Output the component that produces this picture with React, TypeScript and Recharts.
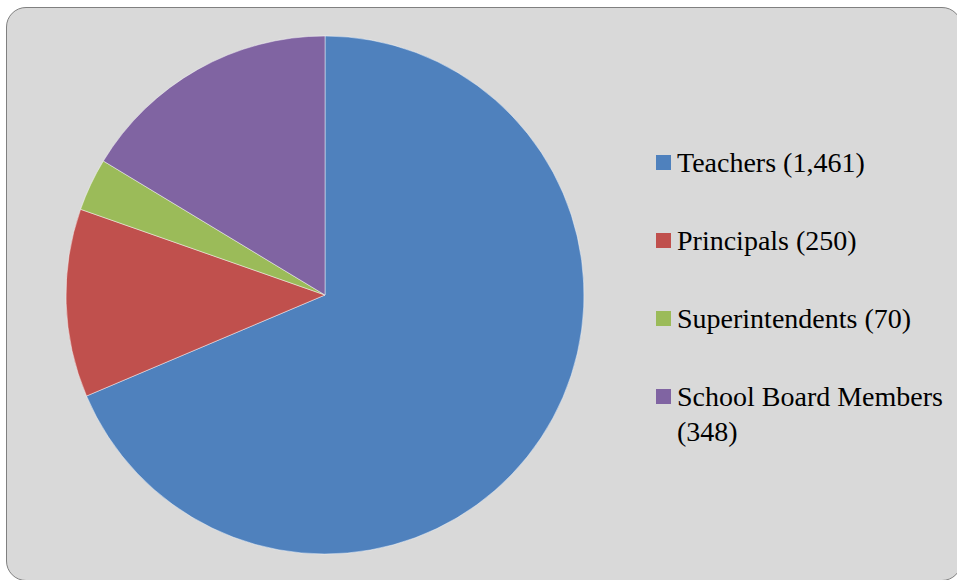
import { PieChart, Pie, Cell, Legend } from "recharts";

const groups = ["Teachers", "Principals", "Superintendents", "School Board Members"];
const counts = [1461, 250, 70, 348];
const countLabels = ["1,461", "250", "70", "348"];
const colors = ["#4F81BD", "#C0504D", "#9BBB59", "#8064A2"];

const data = groups.map((name, i) => ({ name, value: counts[i], label: countLabels[i] }));

function LegendList() {
  return (
    <ul style={{ listStyle: "none", margin: 0, padding: 0 }}>
      {data.map((d, i) => (
        <li
          key={d.name}
          style={{
            display: "flex",
            alignItems: "flex-start",
            marginBottom: 43,
            fontFamily: "'Liberation Serif', serif",
            fontSize: 28,
            lineHeight: "35px",
            color: "#000",
          }}
        >
          <span
            style={{
              display: "inline-block",
              width: 15,
              height: 15,
              background: colors[i],
              marginTop: 10,
              marginRight: 6,
              flex: "none",
            }}
          />
          <span style={{ width: 268 }}>
            {d.name} ({d.label})
          </span>
        </li>
      ))}
    </ul>
  );
}

export default function App() {
  return (
    <div style={{ position: "fixed", left: 0, top: 0, width: 957, height: 580, overflow: "hidden", background: "#fff" }}>
      <div
        style={{
          position: "absolute",
          left: 6,
          top: 7,
          width: 956,
          height: 574,
          background: "#D9D9D9",
          border: "1.5px solid #808080",
          borderRadius: 20,
          boxSizing: "border-box",
        }}
      />
      <PieChart
        width={957}
        height={580}
        margin={{ top: 0, right: 0, bottom: 0, left: 0 }}
        style={{ position: "absolute", left: 0, top: 0 }}
      >
        <Pie
          data={data}
          dataKey="value"
          nameKey="name"
          cx={325}
          cy={295}
          outerRadius={259}
          startAngle={90}
          endAngle={-270}
          stroke="rgba(255,255,255,0.45)"
          strokeWidth={1}
          isAnimationActive={false}
        >
          {data.map((d, i) => (
            <Cell key={d.name} fill={colors[i]} />
          ))}
        </Pie>
        <Legend
          layout="vertical"
          content={() => <LegendList />}
          wrapperStyle={{ position: "absolute", left: 656, top: 145, width: 300 }}
        />
      </PieChart>
    </div>
  );
}
